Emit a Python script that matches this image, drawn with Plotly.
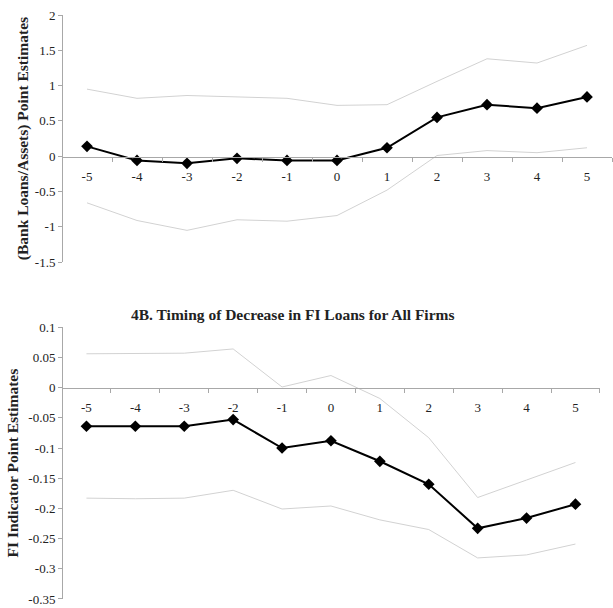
import plotly.graph_objects as go

periods = ["-5", "-4", "-3", "-2", "-1", "0", "1", "2", "3", "4", "5"]

# Panel A: (Bank Loans/Assets)
a_point = [0.14, -0.06, -0.10, -0.03, -0.06, -0.06, 0.12, 0.55, 0.73, 0.68, 0.84]
a_upper = [0.95, 0.82, 0.86, 0.84, 0.82, 0.72, 0.73, 1.06, 1.38, 1.32, 1.57]
a_lower = [-0.66, -0.91, -1.05, -0.90, -0.92, -0.84, -0.48, 0.01, 0.08, 0.05, 0.12]

# Panel B: FI indicator
b_point = [-0.064, -0.064, -0.064, -0.053, -0.100, -0.088, -0.122, -0.160, -0.233, -0.216, -0.193]
b_upper = [0.056, 0.057, 0.057, 0.064, 0.001, 0.020, -0.018, -0.083, -0.182, -0.153, -0.124]
b_lower = [-0.183, -0.184, -0.183, -0.170, -0.201, -0.196, -0.219, -0.235, -0.282, -0.277, -0.259]

a_ticks = [2, 1.5, 1, 0.5, 0, -0.5, -1, -1.5]
a_ticktext = ["2", "1.5", "1", "0.5", "0", "-0.5", "-1", "-1.5"]
b_ticks = [0.1, 0.05, 0, -0.05, -0.1, -0.15, -0.2, -0.25, -0.3, -0.35]
b_ticktext = ["0.1", "0.05", "0", "-0.05", "-0.1", "-0.15", "-0.2", "-0.25", "-0.3", "-0.35"]

panel_b_title = "4B. Timing of Decrease in FI Loans for All Firms"
a_ytitle = "(Bank Loans/Assets) Point Estimates"
b_ytitle = "FI Indicator Point Estimates"

FONT = "Liberation Serif"
BAND = "#d2d2d2"
AXC = "#a8a8a8"

fig = go.Figure()
for ys in [a_upper, a_lower]:
    fig.add_trace(go.Scatter(x=periods, y=ys, xaxis="x", yaxis="y", mode="lines",
                             line=dict(color=BAND, width=1), hoverinfo="skip"))
fig.add_trace(go.Scatter(x=periods, y=a_point, xaxis="x", yaxis="y", mode="lines+markers",
                         line=dict(color="black", width=2),
                         marker=dict(symbol="diamond", size=9, color="black")))
for ys in [b_upper, b_lower]:
    fig.add_trace(go.Scatter(x=periods, y=ys, xaxis="x2", yaxis="y2", mode="lines",
                             line=dict(color=BAND, width=1), hoverinfo="skip"))
fig.add_trace(go.Scatter(x=periods, y=b_point, xaxis="x2", yaxis="y2", mode="lines+markers",
                         line=dict(color="black", width=2),
                         marker=dict(symbol="diamond", size=9, color="black")))

xcommon = dict(type="category", showgrid=False, zeroline=False, showline=True,
               linecolor=AXC, linewidth=1, ticks="outside", tickson="boundaries",
               ticklen=4, tickcolor=AXC, tickfont=dict(family=FONT, size=13, color="#222"),
               anchor="free", range=[-0.5, 10.5], ticklabelstandoff=8)
ycommon = dict(showgrid=False, zeroline=False, showline=True, linecolor=AXC, linewidth=1,
               ticks="outside", ticklen=4, tickcolor=AXC,
               tickfont=dict(family=FONT, size=13, color="#222"))

fig.update_layout(
    width=613, height=608,
    margin=dict(l=62, r=1, t=15, b=7),
    paper_bgcolor="white", plot_bgcolor="white",
    showlegend=False,
    xaxis=dict(**xcommon, domain=[0, 1], position=0.7577),
    yaxis=dict(**ycommon, domain=[0.5768, 1], range=[-1.5, 2], tickvals=a_ticks,
               ticktext=a_ticktext, anchor="free", position=0,
               title=dict(text="<b>" + a_ytitle + "</b>", font=dict(family=FONT, size=15.5, color="#222"),
                          standoff=1)),
    xaxis2=dict(**xcommon, domain=[0, 0.978], position=0.3618),
    yaxis2=dict(**ycommon, domain=[0, 0.4654], range=[-0.35, 0.1], tickvals=b_ticks,
                ticktext=b_ticktext, anchor="free", position=0,
                title=dict(text="<b>" + b_ytitle + "</b>", font=dict(family=FONT, size=15.5, color="#222"),
                           standoff=4)),
    annotations=[dict(text="<b>" + panel_b_title + "</b>", x=0.42, y=0.488, xref="paper", yref="paper",
                      showarrow=False, font=dict(family=FONT, size=15.5, color="#222"),
                      xanchor="center", yanchor="middle")],
)

fig.write_html("out.html")
